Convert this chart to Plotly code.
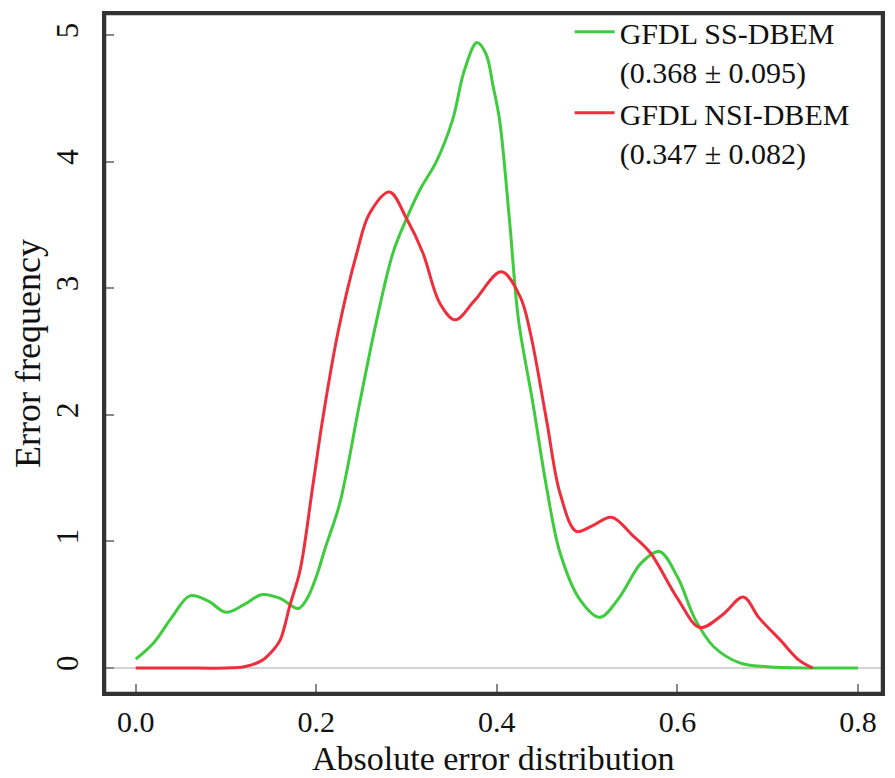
import plotly.graph_objects as go

# Green: GFDL SS-DBEM density
ss_x = [0.000, 0.020, 0.040, 0.060, 0.080, 0.100, 0.120, 0.140, 0.160, 0.180, 0.190, 0.200, 0.210,
        0.226, 0.248, 0.267, 0.285, 0.300, 0.315, 0.333, 0.351, 0.364, 0.378, 0.388, 0.396, 0.403,
        0.414, 0.424, 0.440, 0.455, 0.470, 0.492, 0.514, 0.535, 0.560, 0.580, 0.600, 0.620, 0.640,
        0.669, 0.700, 0.750, 0.800]
ss_y = [0.07, 0.20, 0.40, 0.57, 0.53, 0.44, 0.50, 0.58, 0.55, 0.47, 0.55, 0.72, 0.95,
        1.30, 2.09, 2.75, 3.28, 3.55, 3.78, 4.00, 4.33, 4.72, 4.94, 4.85, 4.59, 4.33,
        3.54, 2.75, 2.09, 1.43, 0.91, 0.54, 0.40, 0.55, 0.83, 0.92, 0.72, 0.38, 0.17,
        0.04, 0.01, 0.00, 0.00]

# Red: GFDL NSI-DBEM density
nsi_x = [0.000, 0.050, 0.100, 0.120, 0.140, 0.152, 0.160, 0.171, 0.182, 0.196, 0.207, 0.224, 0.245,
         0.259, 0.281, 0.300, 0.318, 0.337, 0.354, 0.375, 0.405, 0.426, 0.437, 0.455, 0.470, 0.488,
         0.505, 0.527, 0.550, 0.570, 0.600, 0.625, 0.650, 0.673, 0.690, 0.714, 0.735, 0.750]
nsi_y = [0.00, 0.00, 0.00, 0.01, 0.06, 0.14, 0.22, 0.50, 0.77, 1.43, 1.96, 2.65, 3.28,
         3.59, 3.76, 3.55, 3.28, 2.88, 2.75, 2.90, 3.13, 2.93, 2.65, 1.96, 1.38, 1.08,
         1.12, 1.19, 1.05, 0.91, 0.55, 0.32, 0.42, 0.56, 0.40, 0.22, 0.06, 0.00]

names = ["GFDL SS-DBEM<br>(0.368 ± 0.095)", "GFDL NSI-DBEM<br>(0.347 ± 0.082)"]
colors = ["#3ECC3E", "#EE2E3C"]

x_ticks = [0.0, 0.2, 0.4, 0.6, 0.8]
x_labels = ["0.0", "0.2", "0.4", "0.6", "0.8"]
y_ticks = [0, 1, 2, 3, 4, 5]
x_title = "Absolute error distribution"
y_title = "Error frequency"

font_family = "Liberation Serif"

fig = go.Figure()
fig.add_trace(go.Scatter(x=ss_x, y=ss_y, mode="lines", name=names[0],
                         line=dict(color=colors[0], width=3, shape="spline", smoothing=1.0)))
fig.add_trace(go.Scatter(x=nsi_x, y=nsi_y, mode="lines", name=names[1],
                         line=dict(color=colors[1], width=3, shape="spline", smoothing=1.0)))

fig.add_annotation(text=x_title, xref="paper", yref="paper", x=0.5, y=0,
                   xanchor="center", yanchor="middle", yshift=-65, showarrow=False,
                   font=dict(family=font_family, size=34, color="#111111"))

# plot frame
fig.add_shape(type="rect", xref="paper", yref="paper", x0=0, y0=0, x1=1, y1=1,
              line=dict(color="#333333", width=2.5), fillcolor="rgba(0,0,0,0)", layer="above")

fig.update_layout(
    width=895, height=778,
    margin=dict(l=97, r=21, t=6, b=93, autoexpand=False),
    paper_bgcolor="white", plot_bgcolor="white",
    font=dict(family=font_family, color="#111111", size=30),
    showlegend=True,
    legend=dict(x=0.598, y=1.012, xanchor="left", yanchor="top",
                bgcolor="rgba(0,0,0,0)", borderwidth=0,
                font=dict(family=font_family, size=30, color="#111111"),
                valign="top", tracegroupgap=0, itemwidth=40),
    xaxis=dict(range=[-0.034, 0.8266], tickvals=x_ticks, ticktext=x_labels,
               ticks="inside", ticklen=9, tickwidth=2, tickcolor="#888888",
               showgrid=False, zeroline=False, automargin=False,
               showline=True, mirror=True, linecolor="#333333", linewidth=2.5,
               tickfont=dict(size=30), ticklabelstandoff=0),
    yaxis=dict(range=[-0.1975, 5.166], tickvals=y_ticks, tickangle=-90,
               ticks="inside", ticklen=9, tickwidth=2, tickcolor="#888888",
               showgrid=False, zeroline=True, zerolinecolor="#d4d4d4", zerolinewidth=2,
               showline=True, mirror=True, linecolor="#333333", linewidth=2.5, automargin=False,
               tickfont=dict(size=31), ticklabelstandoff=12,
               title=dict(text=y_title, font=dict(size=36), standoff=8)),
)

fig.write_html("out.html")
